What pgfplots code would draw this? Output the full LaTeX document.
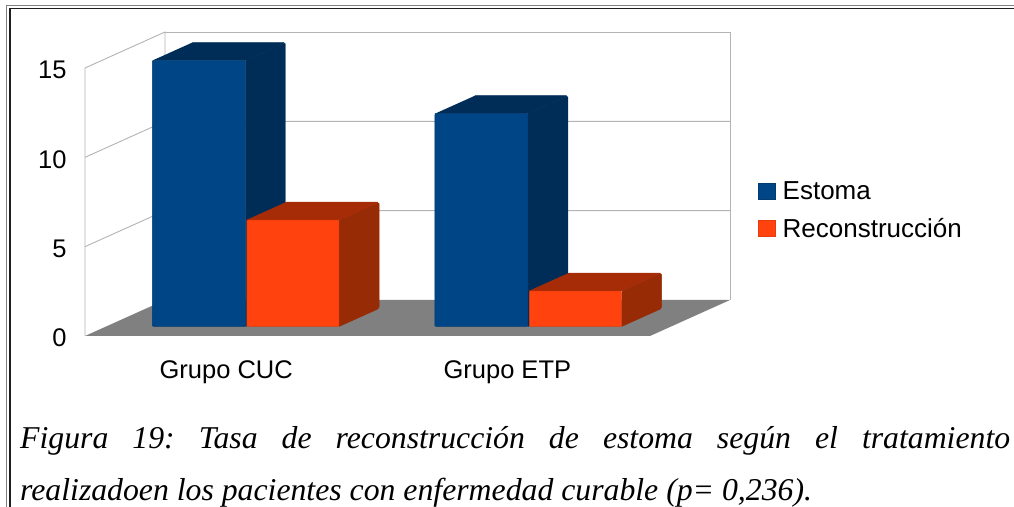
\documentclass[border=0pt]{standalone}
\usepackage{pgfplots}
\pgfplotsset{compat=1.18}
\usepackage{fontspec}
\setmainfont{Liberation Sans}
\newfontfamily\captionserif{Liberation Serif}
\definecolor{estoma}{HTML}{004586}
\definecolor{estomadark}{HTML}{002D57}
\definecolor{recon}{HTML}{FF420E}
\definecolor{recontop}{HTML}{A52C06}
\definecolor{reconside}{HTML}{972B05}
\definecolor{wallgrid}{HTML}{B3B3B3}
\definecolor{floorgray}{HTML}{808080}
\begin{document}
\begin{tikzpicture}[x=1pt,y=1pt]
\useasboundingbox (0,0) rectangle (1014,506);
% double page rule
\draw[line width=1.3pt,black!50] (6.8,-2) -- (6.8,500.8) -- (1016,500.8);
\draw[line width=1.7pt,black!88] (10,-2) -- (10,497.6) -- (1016,497.6);

% walls, floor and scale
\begin{axis}[
  at={(85pt,170pt)}, anchor=south west,
  scale only axis, width=565pt, height=268pt,
  xmin=-0.5, xmax=1.5, ymin=0, ymax=15,
  clip=false,
  axis line style={draw=none},
  tick style={draw=none},
  xtick={0,0.995}, xticklabels={Grupo CUC,Grupo ETP},
  ytick={0,5,10,15},
  /pgf/number format/assume math mode=true,
  tick label style={font=\fontsize{25.5}{28}\selectfont},
  yticklabel style={xshift=-15pt,yshift=-2pt},
  xticklabel style={yshift=-21pt},
]
\addplot[fill=floorgray,draw=none] coordinates {(-0.5,0) (-0.2168,2.015) (1.7832,2.015) (1.5,0)};
\addplot[wallgrid,line width=0.9pt] coordinates {(-0.5,0) (-0.5,15) (-0.2168,17.015) (-0.2168,2.015)};
\addplot[wallgrid,line width=0.9pt] coordinates {(-0.2168,17.015) (1.7832,17.015) (1.7832,2.015)};
\addplot[wallgrid,line width=0.9pt] coordinates {(-0.5,5) (-0.2168,7.015) (1.7832,7.015)};
\addplot[wallgrid,line width=0.9pt] coordinates {(-0.5,10) (-0.2168,12.015) (1.7832,12.015)};
\end{axis}

% bars: the front faces carry the values, top and side faces give the depth
\begin{axis}[
  at={(85pt,179.5pt)}, anchor=south west,
  scale only axis, width=565pt, height=266pt,
  xmin=-0.5, xmax=1.5, ymin=0, ymax=15,
  clip=false, hide axis,
  legend style={draw=none,fill=none,at={(673pt,145pt)},anchor=north west,
    font=\fontsize{26}{28}\selectfont,inner sep=0pt,
    row sep=17pt,
    legend cell align=left,
    nodes={inner xsep=0pt,inner ysep=0pt}},
  legend image code/.code={\fill[#1,sharp corners] (0pt,-8pt) rectangle (17pt,8pt);\path (24pt,0pt);},
  legend columns=1,
]
% Estoma, Grupo CUC
\addplot[fill=estomadark,draw=estomadark,rounded corners=1.5pt,forget plot] coordinates {(0.0680,0) (0.2096,1.015) (0.2096,16.015) (0.0680,15)};
\addplot[fill=estomadark,draw=estomadark,rounded corners=1.5pt,forget plot] coordinates {(-0.2612,15) (0.0680,15) (0.2096,16.015) (-0.1196,16.015)};
% Estoma, Grupo ETP
\addplot[fill=estomadark,draw=estomadark,rounded corners=1.5pt,forget plot] coordinates {(1.0680,0) (1.2096,1.015) (1.2096,13.015) (1.0680,12)};
\addplot[fill=estomadark,draw=estomadark,rounded corners=1.5pt,forget plot] coordinates {(0.7388,12) (1.0680,12) (1.2096,13.015) (0.8804,13.015)};
% Reconstrucción, Grupo CUC
\addplot[fill=reconside,draw=reconside,rounded corners=1.5pt,forget plot] coordinates {(0.3993,0) (0.5409,1.015) (0.5409,7.015) (0.3993,6)};
\addplot[fill=recontop,draw=recontop,rounded corners=1.5pt,forget plot] coordinates {(0.0701,6) (0.3993,6) (0.5409,7.015) (0.2117,7.015)};
% Reconstrucción, Grupo ETP
\addplot[fill=reconside,draw=reconside,rounded corners=1.5pt,forget plot] coordinates {(1.3993,0) (1.5409,1.015) (1.5409,3.015) (1.3993,2)};
\addplot[fill=recontop,draw=recontop,rounded corners=1.5pt,forget plot] coordinates {(1.0701,2) (1.3993,2) (1.5409,3.015) (1.2117,3.015)};
% front faces
\addplot[ybar,bar width=93pt,bar shift=-27.3pt,fill=estoma,draw=estoma!85!black,line width=0.5pt,rounded corners=1pt] coordinates {(0,15) (1,12)};
\addplot[ybar,bar width=92pt,bar shift=66.6pt,fill=recon,draw=recon!90!black,line width=0.5pt,rounded corners=1pt] coordinates {(0,6) (1,2)};
\legend{Estoma,Reconstrucción}
\end{axis}

% figure caption
\node[anchor=base west,inner sep=0pt,font=\captionserif\itshape\fontsize{31.75}{36}\selectfont] at (20,58)
  {\frenchspacing\makebox[990pt][s]{Figura 19: Tasa de reconstrucción de estoma según el tratamiento}};
\node[anchor=base west,inner sep=0pt,font=\captionserif\itshape\fontsize{31.75}{36}\selectfont] at (20,6)
  {\frenchspacing realizadoen los pacientes con enfermedad curable (p= 0,236).};
\end{tikzpicture}
\end{document}
